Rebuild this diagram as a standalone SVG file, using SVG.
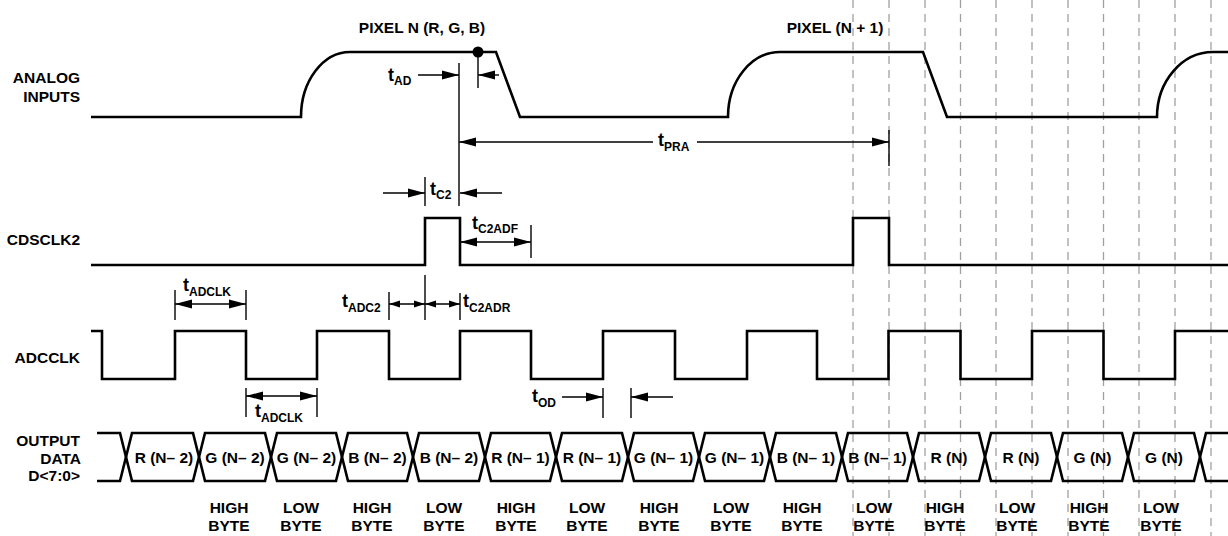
<svg xmlns="http://www.w3.org/2000/svg" width="1228" height="536" viewBox="0 0 1228 536">
<style>
text{font-family:"Liberation Sans",Arial,sans-serif;font-weight:bold;fill:#000}
.lbl{font-size:15.5px;text-anchor:end}
.cell{font-size:15.5px;text-anchor:middle}
.byte{font-size:15.5px;text-anchor:middle}
.t{font-size:18px}
.sub{font-size:12px}
.sig{fill:none;stroke:#000;stroke-width:2.6;stroke-linejoin:miter}
.dim{fill:none;stroke:#000;stroke-width:1.4}
.grid{stroke:#a0a0a0;stroke-width:1.3;stroke-dasharray:8 6}
</style>
<defs>
<marker id="ah" markerUnits="userSpaceOnUse" markerWidth="17" markerHeight="10" refX="17" refY="5" orient="auto-start-reverse"><path d="M0,0.5 L17,5 L0,9.5 z" fill="#000"/></marker>
<marker id="as" markerUnits="userSpaceOnUse" markerWidth="11" markerHeight="8" refX="11" refY="4" orient="auto-start-reverse"><path d="M0,0.5 L11,4 L0,7.5 z" fill="#000"/></marker>
</defs>
<rect width="1228" height="536" fill="#fff"/>
<g id="grid">
<line class="grid" x1="853" y1="0" x2="853" y2="536"/>
<line class="grid" x1="889" y1="0" x2="889" y2="536"/>
<line class="grid" x1="925" y1="0" x2="925" y2="536"/>
<line class="grid" x1="960.5" y1="0" x2="960.5" y2="536"/>
<line class="grid" x1="996" y1="0" x2="996" y2="536"/>
<line class="grid" x1="1032" y1="0" x2="1032" y2="536"/>
<line class="grid" x1="1068" y1="0" x2="1068" y2="536"/>
<line class="grid" x1="1103.5" y1="0" x2="1103.5" y2="536"/>
<line class="grid" x1="1139" y1="0" x2="1139" y2="536"/>
<line class="grid" x1="1175" y1="0" x2="1175" y2="536"/>
<line class="grid" x1="1211" y1="0" x2="1211" y2="536"/>
</g>
<g id="analog-inputs">
<text class="lbl" x="80" y="83">ANALOG</text>
<text class="lbl" x="80" y="102">INPUTS</text>
<path class="sig" d="M91,117 H301 A49,65 0 0 1 350,52 H496 L520,117 H728 A52,65 0 0 1 780,52 H923 L947,117 H1157 A56,65 0 0 1 1213,52 H1228"/>
<circle cx="478" cy="52" r="5.5" fill="#000"/>
<text x="422" y="33" style="font-size:15.5px;text-anchor:middle">PIXEL N (R, G, B)</text>
<text x="835" y="33" style="font-size:15.5px;text-anchor:middle">PIXEL (N + 1)</text>
</g>
<g id="cdsclk2">
<text class="lbl" x="80" y="245">CDSCLK2</text>
<path class="sig" d="M91,265 H425 V218 H460 V265 H853 V218 H889 V265 H1228"/>
</g>
<g id="adcclk">
<text class="lbl" x="80" y="363">ADCCLK</text>
<path class="sig" d="M91,331 H102 V379 H175 V331 H246 V379 H317 V331 H389 V379 H460 V331 H531 V379 H603 V331 H675 V379 H747 V331 H817 V379 H888.5 V331 H960.5 V379 H1032 V331 H1103.5 V379 H1175 V331 H1228"/>
</g>
<g id="output-data">
<text class="lbl" x="80" y="446">OUTPUT</text>
<text class="lbl" x="81" y="464">DATA</text>
<text class="lbl" x="80" y="481">D&lt;7:0&gt;</text>
<path class="sig" d="M97,433 H120 L126,457 L120,481 H97"/>
<path class="sig" d="M126,457 L132,433 H193 L199,457 L193,481 H132 Z"/>
<path class="sig" d="M199,457 L205,433 H265 L271,457 L265,481 H205 Z"/>
<path class="sig" d="M271,457 L277,433 H336 L342,457 L336,481 H277 Z"/>
<path class="sig" d="M342,457 L348,433 H407 L413,457 L407,481 H348 Z"/>
<path class="sig" d="M413,457 L419,433 H479 L485,457 L479,481 H419 Z"/>
<path class="sig" d="M485,457 L491,433 H550 L556,457 L550,481 H491 Z"/>
<path class="sig" d="M556,457 L562,433 H622 L628,457 L622,481 H562 Z"/>
<path class="sig" d="M628,457 L634,433 H693 L699,457 L693,481 H634 Z"/>
<path class="sig" d="M699,457 L705,433 H764 L770,457 L764,481 H705 Z"/>
<path class="sig" d="M770,457 L776,433 H836 L842,457 L836,481 H776 Z"/>
<path class="sig" d="M842,457 L848,433 H907 L913,457 L907,481 H848 Z"/>
<path class="sig" d="M913,457 L919,433 H979 L985,457 L979,481 H919 Z"/>
<path class="sig" d="M985,457 L991,433 H1051 L1057,457 L1051,481 H991 Z"/>
<path class="sig" d="M1057,457 L1063,433 H1122 L1128,457 L1122,481 H1063 Z"/>
<path class="sig" d="M1128,457 L1134,433 H1194 L1200,457 L1194,481 H1134 Z"/>
<path class="sig" d="M1228,433 H1206 L1200,457 L1206,481 H1228"/>
<text class="cell" x="164" y="463">R (N– 2)</text>
<text class="cell" x="235" y="463">G (N– 2)</text>
<text class="cell" x="306.5" y="463">G (N– 2)</text>
<text class="cell" x="377.5" y="463">B (N– 2)</text>
<text class="cell" x="449" y="463">B (N– 2)</text>
<text class="cell" x="520.5" y="463">R (N– 1)</text>
<text class="cell" x="592" y="463">R (N– 1)</text>
<text class="cell" x="663.5" y="463">G (N– 1)</text>
<text class="cell" x="734.5" y="463">G (N– 1)</text>
<text class="cell" x="806" y="463">B (N– 1)</text>
<text class="cell" x="877.5" y="463">B (N– 1)</text>
<text class="cell" x="949" y="463">R (N)</text>
<text class="cell" x="1021" y="463">R (N)</text>
<text class="cell" x="1092.5" y="463">G (N)</text>
<text class="cell" x="1164" y="463">G (N)</text>
</g>
<g id="byte-labels">
<text class="byte" x="229" y="513">HIGH</text><text class="byte" x="229" y="531">BYTE</text>
<text class="byte" x="301" y="513">LOW</text><text class="byte" x="301" y="531">BYTE</text>
<text class="byte" x="372" y="513">HIGH</text><text class="byte" x="372" y="531">BYTE</text>
<text class="byte" x="444" y="513">LOW</text><text class="byte" x="444" y="531">BYTE</text>
<text class="byte" x="516" y="513">HIGH</text><text class="byte" x="516" y="531">BYTE</text>
<text class="byte" x="587" y="513">LOW</text><text class="byte" x="587" y="531">BYTE</text>
<text class="byte" x="659" y="513">HIGH</text><text class="byte" x="659" y="531">BYTE</text>
<text class="byte" x="731" y="513">LOW</text><text class="byte" x="731" y="531">BYTE</text>
<text class="byte" x="802" y="513">HIGH</text><text class="byte" x="802" y="531">BYTE</text>
<text class="byte" x="874" y="513">LOW</text><text class="byte" x="874" y="531">BYTE</text>
<text class="byte" x="945" y="513">HIGH</text><text class="byte" x="945" y="531">BYTE</text>
<text class="byte" x="1017" y="513">LOW</text><text class="byte" x="1017" y="531">BYTE</text>
<text class="byte" x="1089" y="513">HIGH</text><text class="byte" x="1089" y="531">BYTE</text>
<text class="byte" x="1161" y="513">LOW</text><text class="byte" x="1161" y="531">BYTE</text>
</g>
<g id="connectors">
<!-- tAD -->
<line class="dim" x1="459" y1="63" x2="459" y2="206"/>
<line class="dim" x1="478" y1="52" x2="478" y2="88"/>
<line class="dim" x1="418" y1="75" x2="459" y2="75" marker-end="url(#ah)"/>
<line class="dim" x1="499" y1="75" x2="478" y2="75" marker-end="url(#ah)"/>
<text class="t" x="388" y="81">t<tspan class="sub" dy="4">AD</tspan></text>
<!-- tPRA -->
<line class="dim" x1="889" y1="130" x2="889" y2="166"/>
<line class="dim" x1="653" y1="142" x2="459" y2="142" marker-end="url(#ah)"/>
<line class="dim" x1="697" y1="142" x2="889" y2="142" marker-end="url(#ah)"/>
<text class="t" x="658" y="146">t<tspan class="sub" dy="5">PRA</tspan></text>
<!-- tC2 -->
<line class="dim" x1="425" y1="177" x2="425" y2="206"/>
<line class="dim" x1="383" y1="193" x2="425" y2="193" marker-end="url(#ah)"/>
<line class="dim" x1="502" y1="193" x2="460" y2="193" marker-end="url(#ah)"/>
<text class="t" x="430" y="195">t<tspan class="sub" dy="4">C2</tspan></text>
<!-- tC2ADF -->
<line class="dim" x1="531" y1="225" x2="531" y2="258"/>
<line class="dim" x1="460" y1="242" x2="531" y2="242" marker-start="url(#ah)" marker-end="url(#ah)"/>
<text class="t" x="472" y="229">t<tspan class="sub" dy="4">C2ADF</tspan></text>
<!-- tADCLK upper -->
<line class="dim" x1="175" y1="290" x2="175" y2="320"/>
<line class="dim" x1="246" y1="290" x2="246" y2="320"/>
<line class="dim" x1="175" y1="304" x2="246" y2="304" marker-start="url(#ah)" marker-end="url(#ah)"/>
<text class="t" x="183" y="291">t<tspan class="sub" dy="5">ADCLK</tspan></text>
<!-- tADC2 / tC2ADR -->
<line class="dim" x1="389" y1="292" x2="389" y2="320"/>
<line class="dim" x1="425" y1="275" x2="425" y2="320"/>
<line class="dim" x1="460" y1="293" x2="460" y2="320"/>
<line class="dim" x1="389" y1="304" x2="425" y2="304" marker-start="url(#as)" marker-end="url(#as)"/>
<line class="dim" x1="425" y1="304" x2="460" y2="304" marker-start="url(#as)" marker-end="url(#as)"/>
<text class="t" x="342" y="307">t<tspan class="sub" dy="5">ADC2</tspan></text>
<text class="t" x="463" y="307">t<tspan class="sub" dy="5">C2ADR</tspan></text>
<!-- tADCLK lower -->
<line class="dim" x1="246" y1="388" x2="246" y2="417"/>
<line class="dim" x1="317" y1="388" x2="317" y2="417"/>
<line class="dim" x1="246" y1="396" x2="317" y2="396" marker-start="url(#ah)" marker-end="url(#ah)"/>
<text class="t" x="255" y="417">t<tspan class="sub" dy="5">ADCLK</tspan></text>
<!-- tOD -->
<line class="dim" x1="603" y1="388" x2="603" y2="418"/>
<line class="dim" x1="631" y1="388" x2="631" y2="418"/>
<line class="dim" x1="562" y1="397" x2="603" y2="397" marker-end="url(#ah)"/>
<line class="dim" x1="673" y1="397" x2="631" y2="397" marker-end="url(#ah)"/>
<text class="t" x="532" y="402">t<tspan class="sub" dy="5">OD</tspan></text>
</g>
</svg>
